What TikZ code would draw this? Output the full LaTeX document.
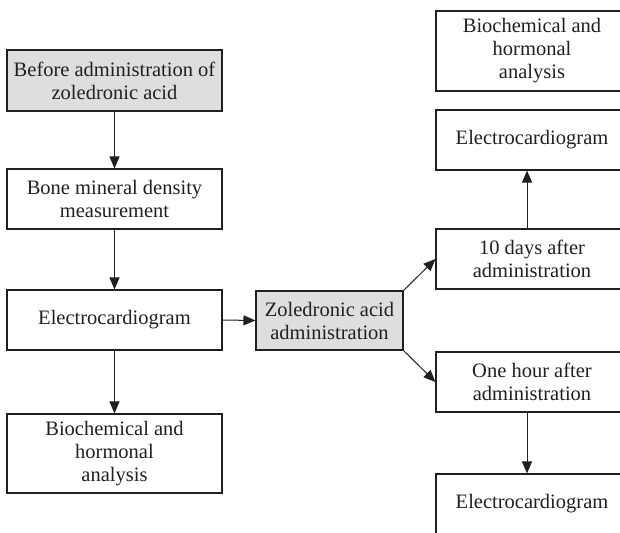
\documentclass[tikz,border=0pt]{standalone}
\usepackage{fontspec}
\setmainfont{Liberation Serif}
\usetikzlibrary{arrows.meta}
\definecolor{boxline}{HTML}{231F20}
\definecolor{boxfill}{HTML}{DEDEDE}
\tikzset{
  flowbox/.style={draw=boxline, line width=1.1pt, align=center, inner sep=0pt,
    font=\fontsize{20.5}{23}\selectfont, text=boxline},
  leftbox/.style={flowbox, minimum width=215pt},
  rightbox/.style={flowbox, minimum width=192pt},
  shaded/.style={fill=boxfill},
  flowarrow/.style={draw=boxline, line width=1pt, -{Triangle[length=12pt,width=10pt]}}
}
\begin{document}
\begin{tikzpicture}[x=1pt,y=1pt]
\clip (0,0) rectangle (620,-532);
\fill[white] (0,0) rectangle (620,-532);
% left column
\node[leftbox, shaded, minimum height=61pt] (before) at (114.5,-80.5) {Before administration of\\zoledronic acid};
\node[leftbox, minimum height=60pt] (bone) at (114.5,-199) {Bone mineral density\\measurement};
\node[leftbox, minimum height=60pt] (ecgA) at (114.5,-320) {Electrocardiogram};
\node[leftbox, minimum height=79pt] (bioA) at (114.5,-453.5) {Biochemical and\\hormonal\\analysis};
% middle
\node[flowbox, shaded, minimum width=147pt, minimum height=59pt] (zol) at (329.5,-320.5) {Zoledronic acid\\administration};
% right column
\node[rightbox, minimum height=80pt] (bioB) at (532,-51) {Biochemical and\\hormonal\\analysis};
\node[rightbox, minimum height=60pt] (ecgB) at (532,-140) {Electrocardiogram};
\node[rightbox, minimum height=60pt] (ten) at (532,-259) {10 days after\\administration};
\node[rightbox, minimum height=60pt] (hour) at (532,-382) {One hour after\\administration};
\node[rightbox, minimum height=60pt] (ecgC) at (532,-504) {Electrocardiogram};
% connectors
\draw[flowarrow] (before.south) -- (bone.north);
\draw[flowarrow] (bone.south) -- (ecgA.north);
\draw[flowarrow] (ecgA.south) -- (bioA.north);
\draw[flowarrow] (ecgA.east) -- (zol.west);
\draw[flowarrow] (zol.north east) -- (ten.west);
\draw[flowarrow] (zol.south east) -- (hour.west);
\draw[flowarrow] ([xshift=-5pt]ten.north) -- ([xshift=-5pt]ecgB.south);
\draw[flowarrow] ([xshift=-5pt]hour.south) -- ([xshift=-5pt]ecgC.north);
\end{tikzpicture}
\end{document}
